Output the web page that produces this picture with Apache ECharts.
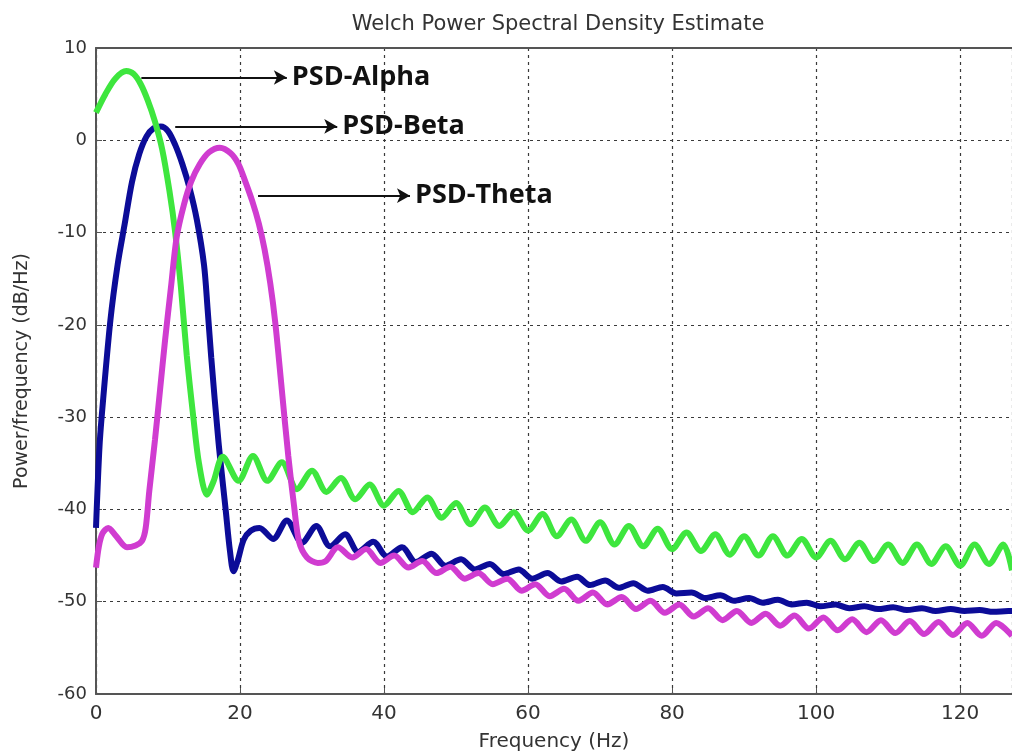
<!DOCTYPE html>
<html>
<head>
<meta charset="utf-8">
<script src="https://cdn.jsdelivr.net/npm/echarts@6/dist/echarts.min.js"></script>
<style>
  html, body { margin: 0; padding: 0; background: #fff; }
  #chart { width: 1012px; height: 755px; }
</style>
</head>
<body>
<div id="chart"></div>
<script>
// PSD-Alpha (green)
const alphaFreq = [0, 1.3, 2.7, 4.2, 5.2, 6.2, 7.2, 8.2, 9.2, 10.2, 11, 11.8, 12.6, 13.5, 14.3, 15.4, 16.3,
  17.6, 19.8, 21.8, 23.8, 25.8, 27.9, 30, 32, 34, 36, 38, 40, 42, 44, 46, 48, 50, 52, 54, 56, 58, 60,
  62, 64, 66, 68, 70, 72, 74, 76, 78, 80, 82, 84, 86, 88, 90, 92, 94, 96, 98, 100, 102, 104, 106, 108,
  110, 112, 114, 116, 118, 120, 122, 124, 126, 127.2];
const alphaPsd = [3.0, 5.0, 6.7, 7.5, 7.2, 6.1, 4.3, 2.0, -1.0, -5.5, -10.0, -16.0, -23.3, -29.9, -35.0, -38.4, -37.0,
  -34.3, -36.9, -34.2, -36.9, -34.9, -37.8, -35.8, -38.1, -36.6, -38.9, -37.3, -39.6, -38.0, -40.3, -38.7, -40.9, -39.3, -41.6, -39.8, -41.8, -40.3, -42.3,
  -40.5, -42.9, -41.1, -43.4, -41.4, -43.8, -41.8, -44.0, -42.1, -44.3, -42.5, -44.5, -42.7, -44.9, -42.9, -45.0, -42.9, -45.0, -43.2, -45.2, -43.4, -45.4, -43.6, -45.6,
  -43.8, -45.8, -43.8, -45.9, -44.0, -46.1, -43.8, -45.9, -43.8, -46.6];

// PSD-Beta (blue)
const betaFreq = [0, 0.5, 1, 2, 3, 4, 5, 6, 7, 8, 9, 10, 11, 12, 13, 14, 15, 15.5, 16, 17, 18, 18.6, 19.1,
  19.7, 20.5, 21.5, 22.7, 24.6, 26.5, 28.6, 30.6, 32.5, 34.6, 36.4, 38.5, 40.4, 42.5, 44.4, 46.6, 48.5, 50.7, 52.6,
  54.7, 56.6, 58.7, 60.6, 62.7, 64.6, 66.8, 68.6, 70.7, 72.6, 74.6, 76.6, 78.7, 80.6, 82.7, 84.6, 86.7, 88.6, 90.7,
  92.6, 94.7, 96.6, 98.7, 100.6, 102.7, 104.6, 106.7, 108.6, 110.7, 112.6, 114.7, 116.6, 118.7, 120.6, 122.7, 124.6, 126.7, 127.2];
const betaPsd = [-42.0, -33.0, -28.0, -19.5, -13.5, -9.0, -4.5, -1.5, 0.4, 1.3, 1.5, 1.0, -0.5, -2.6, -5.2, -8.6, -13.5, -18.3, -23.5, -32.6, -40.0, -44.5, -46.7,
  -45.5, -43.3, -42.3, -42.0, -43.2, -41.2, -43.6, -41.8, -44.0, -42.7, -44.6, -43.5, -45.1, -44.1, -45.7, -44.8, -46.1, -45.4, -46.5,
  -45.9, -47.0, -46.5, -47.5, -46.9, -47.8, -47.3, -48.2, -47.7, -48.5, -48.0, -48.8, -48.4, -49.1, -49.0, -49.6, -49.3, -49.9, -49.6,
  -50.1, -49.8, -50.3, -50.1, -50.5, -50.3, -50.7, -50.5, -50.8, -50.6, -50.9, -50.7, -51.0, -50.8, -51.0, -50.9, -51.1, -51.0, -51.0];

// PSD-Theta (magenta)
const thetaFreq = [0, 0.4, 0.9, 1.7, 2.8, 4.3, 5.5, 6.4, 6.9, 7.4, 8.2, 8.9, 9.6, 10.4, 11.2, 12.2, 13.2, 14.4, 15.7, 17.2,
  18.7, 19.8, 20.7, 21.7, 22.6, 23.4, 24.2, 24.9, 25.8, 26.7, 27.5, 28.2, 29.3, 30.8, 31.9, 33.6, 35.6, 37.5, 39.5,
  41.4, 43.4, 45.3, 47.3, 49.2, 51.2, 53.1, 55.1, 57.1, 59.1, 61, 63, 65, 67, 69, 71, 73, 75, 77, 79, 81, 83, 85,
  87, 89, 91, 93, 95, 97, 99, 101, 103, 105, 107, 109, 111, 113, 115, 117, 119, 121, 123, 125, 127.2];
const thetaPsd = [-46.3, -44.0, -42.6, -42.0, -42.9, -44.1, -43.9, -43.4, -42.0, -38.0, -32.4, -27.0, -21.6, -16.0, -10.5, -7.0, -4.5, -2.6, -1.3, -0.8,
  -1.4, -2.6, -4.4, -6.6, -9.0, -11.8, -15.5, -19.8, -27.0, -34.2, -39.6, -43.5, -45.2, -45.8, -45.6, -44.1, -45.2, -44.3, -45.8,
  -45.0, -46.3, -45.6, -46.9, -46.2, -47.5, -46.9, -48.1, -47.5, -48.8, -48.1, -49.4, -48.6, -49.9, -49.0, -50.3, -49.5, -50.8, -49.9, -51.2, -50.3, -51.6, -50.7,
  -52.0, -51.0, -52.3, -51.3, -52.6, -51.5, -52.9, -51.7, -53.1, -51.9, -53.3, -52.0, -53.4, -52.1, -53.5, -52.2, -53.6, -52.3, -53.7, -52.3, -53.7];

// annotation arrows: label, start freq, end freq, level (dB/Hz)
const arrowNames = ['PSD-Alpha', 'PSD-Beta', 'PSD-Theta'];
const arrowFrom = [6.3, 11, 22.5];
const arrowTo = [26.5, 33.5, 43.6];
const arrowLevel = [6.8, 1.5, -6.0];

const pairs = (xs, ys) => xs.map((x, i) => [x, ys[i]]);

const chart = echarts.init(document.getElementById('chart'));

const gridLine = { show: true, lineStyle: { color: '#3a3a3a', width: 1.2, type: [3, 4] } };

const option = {
    animation: false,
    backgroundColor: '#fff',
    title: {
        text: 'Welch Power Spectral Density Estimate',
        left: 553,
        textAlign: 'center',
        top: 9,
        textStyle: { fontFamily: 'DejaVu Sans', fontSize: 21, fontWeight: 'normal', color: '#333' }
    },
    grid: { left: 96, right: 0, top: 48, bottom: 61, outerBoundsMode: 'none' },
    xAxis: [
        {
            type: 'value',
            min: 0,
            max: 127.2,
            interval: 20,
            name: 'Frequency (Hz)',
            nameLocation: 'middle',
            nameGap: 38,
            nameTextStyle: { fontFamily: 'DejaVu Sans', fontSize: 20, color: '#333' },
            axisLine: { show: true, onZero: false, lineStyle: { color: '#555', width: 2 } },
            axisTick: { show: true, inside: true, length: 6, lineStyle: { color: '#555' } },
            axisLabel: { margin: 10, showMaxLabel: false, fontFamily: 'DejaVu Sans', fontSize: 20, color: '#333' },
            splitLine: gridLine
        },
        {
            type: 'value',
            position: 'top',
            min: 0,
            max: 127.2,
            interval: 20,
            axisLine: { show: true, onZero: false, lineStyle: { color: '#555', width: 2 } },
            axisTick: { show: false },
            axisLabel: { show: false },
            splitLine: { show: false }
        }
    ],
    yAxis: {
        type: 'value',
        min: -60,
        max: 10,
        interval: 10,
        name: 'Power/frequency (dB/Hz)',
        nameLocation: 'middle',
        nameGap: 64,
        nameTextStyle: { fontFamily: 'DejaVu Sans', fontSize: 19, color: '#333' },
        axisLine: { show: true, onZero: false, lineStyle: { color: '#555', width: 2 } },
        axisTick: { show: true, inside: true, length: 6, lineStyle: { color: '#555' } },
        axisLabel: { margin: 9, fontFamily: 'DejaVu Sans', fontSize: 18, color: '#333' },
        splitLine: gridLine
    },
    series: [
        {
            name: 'PSD-Beta',
            type: 'line',
            data: pairs(betaFreq, betaPsd),
            showSymbol: false,
            smooth: 0.3,
            lineStyle: { color: '#0c0c98', width: 6 },
            z: 2
        },
        {
            name: 'PSD-Alpha',
            type: 'line',
            data: pairs(alphaFreq, alphaPsd),
            showSymbol: false,
            smooth: 0.3,
            lineStyle: { color: '#3ee63e', width: 6 },
            z: 3
        },
        {
            name: 'PSD-Theta',
            type: 'line',
            data: pairs(thetaFreq, thetaPsd),
            showSymbol: false,
            smooth: 0.3,
            lineStyle: { color: '#d03cd0', width: 6 },
            z: 4,
            markLine: {
                silent: true,
                symbol: ['none', 'arrow'],
                symbolSize: [11, 13],
                lineStyle: { color: '#111', width: 2, type: 'solid' },
                label: {
                    show: true,
                    position: 'end',
                    distance: 5,
                    formatter: '{b}',
                    fontFamily: 'Open Sans',
                    fontWeight: 'bold',
                    fontSize: 27,
                    color: '#111'
                },
                data: arrowNames.map((name, i) => [
                    { name: name, coord: [arrowFrom[i], arrowLevel[i]] },
                    { coord: [arrowTo[i], arrowLevel[i]] }
                ])
            }
        }
    ]
};

chart.setOption(option);
</script>
</body>
</html>
